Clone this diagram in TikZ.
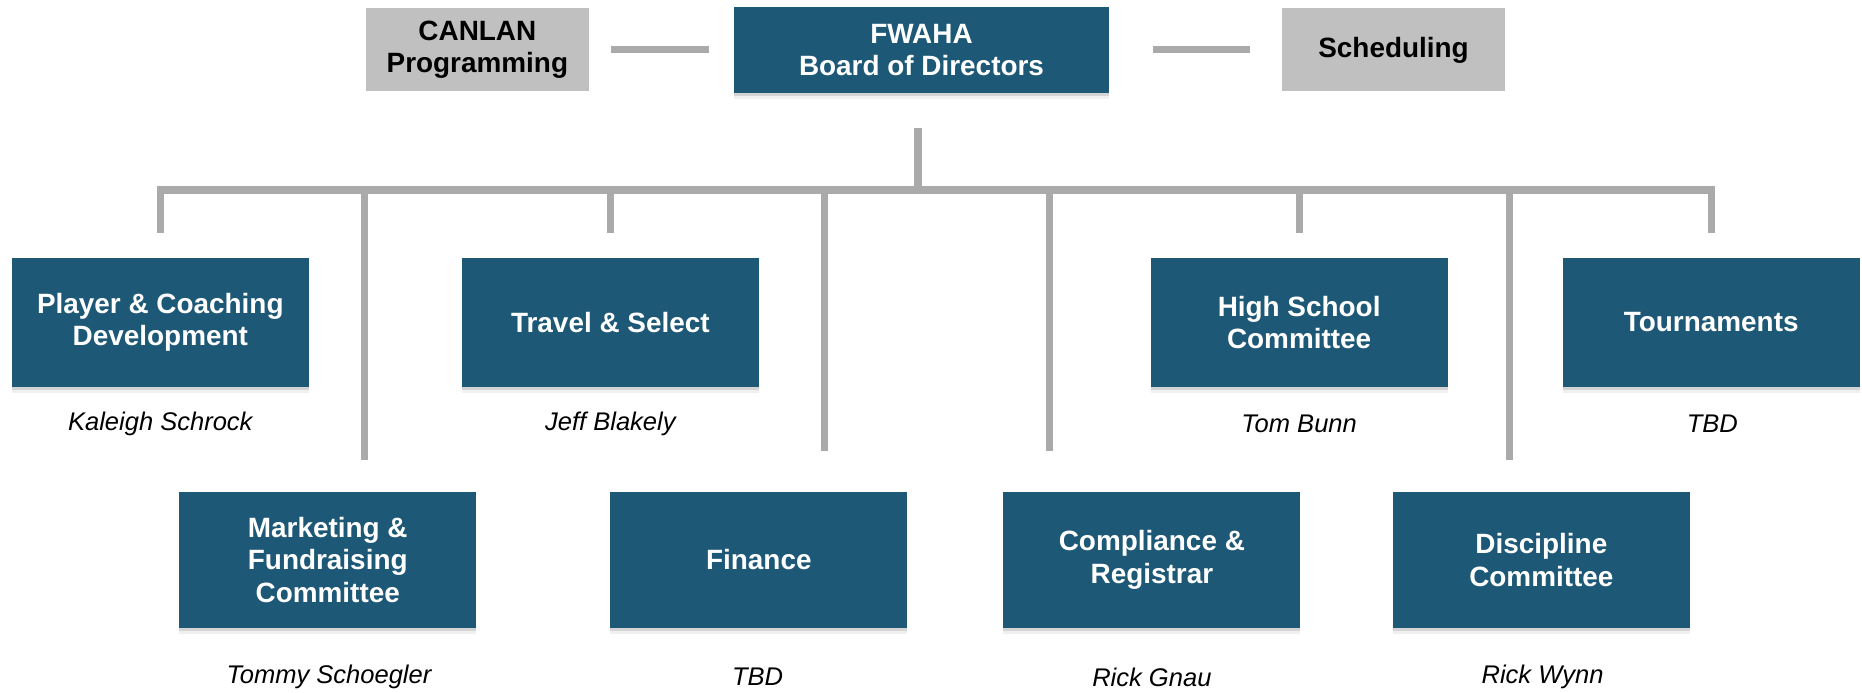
\documentclass[tikz,border=0pt]{standalone}
\usepackage{fontspec}
\setmainfont{Liberation Sans}
\usepackage{xcolor}
\usetikzlibrary{shadows}
\definecolor{boardblue}{RGB}{29,88,118}
\definecolor{linkgray}{RGB}{170,170,170}
\definecolor{sidegray}{RGB}{192,192,192}

\begin{document}
\begin{tikzpicture}[x=1pt,y=-1pt,
		unit/.style={fill=boardblue, text=white, minimum width=250pt, minimum height=109pt, inner sep=0pt, align=center,
			font=\fontsize{23.5}{27.5}\selectfont\bfseries,
			drop shadow={shadow xshift=0pt, shadow yshift=-5pt, opacity=.12},
			drop shadow={shadow xshift=0pt, shadow yshift=-2.5pt, opacity=.25}},
		lowunit/.style={unit, minimum height=115pt},
		side/.style={fill=sidegray, text=black, minimum width=188pt, minimum height=70pt, inner sep=0pt, align=center,
			font=\fontsize{23.5}{27.5}\selectfont\bfseries},
		person/.style={font=\fontsize{21.5}{26}\selectfont\itshape},
		link/.style={draw=linkgray, line width=6pt}]
			\useasboundingbox (0,0) rectangle (1568,583);
			% top line
			\node[side] (canlan) at (402,42) {CANLAN\\Programming};
			\node[unit, minimum width=316pt, minimum height=72pt] (board) at (776,42) {FWAHA\\Board of Directors};
			\node[side] (sched) at (1173.5,42) {Scheduling};
			% committees, first row
			\node[unit] (player) at (135,271.5) {Player \& Coaching\\Development};
			\node[unit] (travel) at (514,271.5) {Travel \& Select};
			\node[unit] (school) at (1094,271.5) {High School\\Committee};
			\node[unit] (tourn) at (1441,271.5) {Tournaments};
			% committees, second row
			\node[lowunit] (market) at (276,471.5) {Marketing \&\\Fundraising\\Committee};
			\node[lowunit] (finance) at (639,471.5) {Finance};
			\node[lowunit] (comply) at (970,471.5) {Compliance \&\\Registrar};
			\node[lowunit] (discip) at (1298,471.5) {Discipline\\Committee};
			% chairs
			\node[person] (playerchair) at (135,357) {Kaleigh Schrock};
			\node[person] (travelchair) at (514,357) {Jeff Blakely};
			\node[person] (schoolchair) at (1094,357) {Tom Bunn};
			\node[person] (tournchair) at (1442,357) {TBD};
			\node[person] (marketchair) at (277,570) {Tommy Schoegler};
			\node[person] (financechair) at (638,570) {TBD};
			\node[person] (complychair) at (970,570) {Rick Gnau};
			\node[person] (discipchair) at (1299,570) {Rick Wynn};
			% links
			\draw[link, shorten <=18pt, shorten >=21pt] (canlan.east) -- (board.west);
			\draw[link, shorten <=37pt, shorten >=27pt] (board.east) -- (sched.west);
			\coordinate (trunk) at (773,108);
			\coordinate (bus) at (773,160);
			\draw[link] (trunk) -- (bus);
			\draw[link] ([yshift=21pt]player.north) -- (player.north |- bus) -- (tourn.north |- bus) -- ([yshift=21pt]tourn.north);
			\foreach \n in {travel,school} {
				\draw[link] (\n.north |- bus) -- ([yshift=21pt]\n.north);
			}
			\foreach \x/\y in {307/387,694/380,884/380,1271/387} {
				\coordinate (drop\x) at (\x,\y);
				\draw[link] (drop\x |- bus) -- (drop\x);
			}
\end{tikzpicture}
\end{document}
